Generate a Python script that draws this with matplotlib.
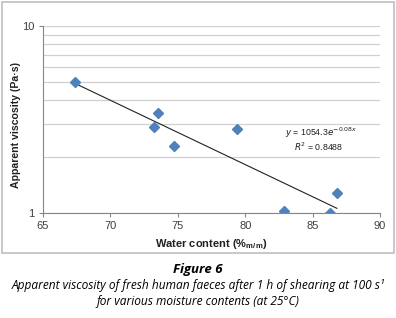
import numpy as np
import matplotlib
matplotlib.use('Agg')
import matplotlib.pyplot as plt
from matplotlib.patches import Rectangle
from matplotlib.ticker import FixedLocator, NullFormatter

plt.rcParams['font.family'] = ['Liberation Sans', 'DejaVu Sans']

# data
water = [67.4, 73.5, 73.2, 74.7, 79.4, 82.9, 86.3, 86.8]
viscosity = [5.0, 3.42, 2.88, 2.28, 2.81, 1.02, 1.0, 1.28]
fit_text = '$y$ = 1054.3$e^{-0.08x}$'
r2_text = '$R^2$ = 0.8488'

fig = plt.figure(figsize=(3.96, 3.18), dpi=100)

# chart border
fig.patches.append(Rectangle((2 / 396, 1 - 253 / 318), 392 / 396, 251 / 318,
                             transform=fig.transFigure, fill=False,
                             edgecolor='#bfbfbf', linewidth=1.2))

ax = fig.add_axes([43 / 396, 1 - 213 / 318, 337 / 396, 187 / 318])
ax.set_yscale('log')
ax.set_xlim(65, 90)
ax.set_ylim(1, 10)
ax.set_xticks([65, 70, 75, 80, 85, 90])
ax.yaxis.set_major_locator(FixedLocator([1, 10]))
ax.set_yticklabels(['1', '10'])
ax.yaxis.set_minor_locator(FixedLocator([2, 3, 4, 5, 6, 7, 8, 9]))
ax.yaxis.set_minor_formatter(NullFormatter())
ax.tick_params(axis='y', which='minor', length=0)
ax.tick_params(which='major', length=3, color='#868686', labelsize=8,
               labelcolor='#404040', pad=3)
ax.grid(True, axis='y', which='both', color='#d0d0d0', linewidth=0.9)
ax.set_axisbelow(True)
for s in ['top', 'right']:
    ax.spines[s].set_visible(False)
for s in ['left', 'bottom']:
    ax.spines[s].set_color('#868686')

# exponential trendline, fitted like Excel does (least squares on ln y)
b, ln_a = np.polyfit(water, np.log(viscosity), 1)
xs = np.linspace(min(water), max(water), 50)
ax.plot(xs, np.exp(ln_a + b * xs), color='#222222', linewidth=0.8)
ax.plot(water, viscosity, linestyle='none', marker='D', markersize=5,
        color='#4f81bd')

fig.text(321 / 396, 1 - 133 / 318, fit_text, ha='center', va='center',
         fontsize=6.3, color='#202020')
fig.text(319 / 396, 1 - 147 / 318, r2_text, ha='center', va='center',
         fontsize=6.3, color='#202020')

ax.set_xlabel('Water content (%$_{\\mathregular{m/m}}$)', fontsize=8,
              fontweight='bold', color='#202020', labelpad=4)
fig.text(16 / 396, 1 - 125 / 318, 'Apparent viscosity (Pa·s)', rotation=90,
         ha='center', va='center', fontsize=7.6, fontweight='bold',
         color='#202020')

fig.text(0.5, 1 - 270 / 318, 'Figure 6', ha='center', va='center',
         fontsize=9.5, fontweight='bold', style='italic', family='Open Sans')
fig.text(0.5, 1 - 286 / 318,
         'Apparent viscosity of fresh human faeces after 1 h of shearing at 100 s¹',
         ha='center', va='center', fontsize=8.6, style='italic', family='Open Sans')
fig.text(0.5, 1 - 302 / 318, 'for various moisture contents (at 25°C)',
         ha='center', va='center', fontsize=8.6, style='italic', family='Open Sans')

fig.savefig('out.png', dpi=100)
